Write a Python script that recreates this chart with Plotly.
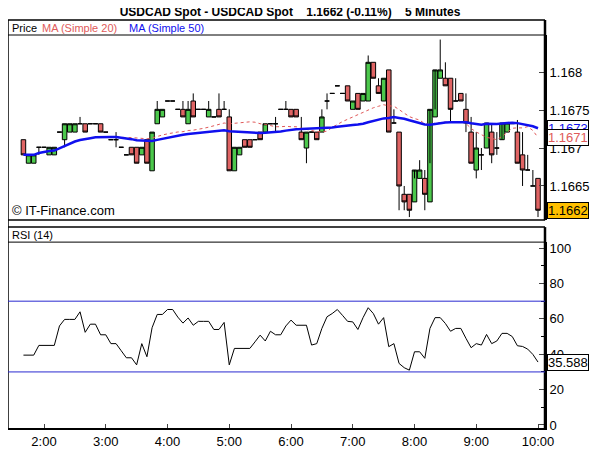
import pandas as pd
import plotly.graph_objects as go
from plotly.subplots import make_subplots

start = "2024-01-01 01:40"
opens = [1.16711,1.16680,1.16680,1.16701,1.16701,1.16691,1.16691,1.16721,1.16711,1.16721,
         1.16721,1.16732,1.16732,1.16732,1.16732,1.16732,1.16721,1.16711,1.16711,1.16701,
         1.16691,1.16701,1.16701,1.16691,1.16711,1.16670,1.16732,1.16741,1.16762,1.16762,
         1.16751,1.16751,1.16732,1.16762,1.16751,1.16751,1.16741,1.16741,1.16751,1.16751,
         1.16741,1.16670,1.16691,1.16711,1.16711,1.16711,1.16721,1.16721,1.16732,1.16732,
         1.16751,1.16751,1.16751,1.16751,1.16721,1.16700,1.16721,1.16721,1.16721,1.16762,
         1.16772,1.16782,1.16772,1.16782,1.16751,1.16772,1.16762,1.16762,1.16813,1.16782,
         1.16762,1.16803,1.16733,1.16721,1.16639,1.16639,1.16629,1.16660,1.16660,1.16629,
         1.16741,1.16792,1.16792,1.16792,1.16762,1.16772,1.16751,1.16721,1.16671,1.16691,
         1.16700,1.16721,1.16700,1.16711,1.16721,1.16732,1.16721,1.16691,1.16671,1.16650,
         1.16660]
highs = [1.16711,1.16691,1.16691,1.16701,1.16701,1.16701,1.16701,1.16721,1.16732,1.16732,
         1.16732,1.16741,1.16732,1.16732,1.16732,1.16732,1.16721,1.16711,1.16721,1.16701,
         1.16691,1.16701,1.16701,1.16701,1.16711,1.16721,1.16762,1.16751,1.16762,1.16762,
         1.16751,1.16762,1.16762,1.16772,1.16751,1.16751,1.16762,1.16741,1.16772,1.16762,
         1.16751,1.16701,1.16701,1.16711,1.16711,1.16711,1.16721,1.16732,1.16732,1.16741,
         1.16751,1.16762,1.16751,1.16751,1.16741,1.16721,1.16721,1.16721,1.16751,1.16772,
         1.16772,1.16782,1.16772,1.16782,1.16762,1.16772,1.16772,1.16822,1.16813,1.16792,
         1.16792,1.16803,1.16751,1.16721,1.16650,1.16639,1.16660,1.16684,1.16671,1.16680,
         1.16751,1.16843,1.16813,1.16792,1.16792,1.16772,1.16772,1.16741,1.16721,1.16700,
         1.16733,1.16733,1.16721,1.16711,1.16733,1.16733,1.16737,1.16721,1.16691,1.16671,
         1.16660]
lows  = [1.16691,1.16680,1.16680,1.16691,1.16701,1.16691,1.16691,1.16721,1.16701,1.16721,
         1.16721,1.16732,1.16721,1.16732,1.16732,1.16721,1.16721,1.16711,1.16701,1.16701,
         1.16691,1.16691,1.16680,1.16691,1.16680,1.16670,1.16732,1.16741,1.16762,1.16762,
         1.16751,1.16741,1.16732,1.16741,1.16751,1.16751,1.16741,1.16741,1.16741,1.16751,
         1.16670,1.16670,1.16691,1.16701,1.16701,1.16711,1.16711,1.16721,1.16732,1.16721,
         1.16751,1.16751,1.16741,1.16741,1.16711,1.16680,1.16721,1.16711,1.16721,1.16751,
         1.16772,1.16782,1.16772,1.16762,1.16751,1.16751,1.16762,1.16762,1.16792,1.16772,
         1.16762,1.16721,1.16733,1.16618,1.16618,1.16609,1.16629,1.16660,1.16618,1.16629,
         1.16741,1.16792,1.16782,1.16733,1.16762,1.16762,1.16721,1.16680,1.16660,1.16671,
         1.16700,1.16680,1.16691,1.16711,1.16721,1.16733,1.16680,1.16650,1.16671,1.16650,
         1.16609]
closes= [1.16691,1.16691,1.16691,1.16701,1.16701,1.16701,1.16701,1.16721,1.16732,1.16732,
         1.16732,1.16732,1.16721,1.16732,1.16732,1.16721,1.16721,1.16711,1.16711,1.16701,
         1.16691,1.16691,1.16680,1.16701,1.16680,1.16721,1.16751,1.16751,1.16762,1.16762,
         1.16751,1.16741,1.16751,1.16741,1.16751,1.16751,1.16751,1.16741,1.16741,1.16751,
         1.16670,1.16701,1.16701,1.16701,1.16701,1.16711,1.16711,1.16732,1.16732,1.16732,
         1.16751,1.16751,1.16741,1.16741,1.16711,1.16721,1.16721,1.16711,1.16741,1.16762,
         1.16772,1.16782,1.16772,1.16762,1.16762,1.16751,1.16772,1.16813,1.16792,1.16772,
         1.16792,1.16721,1.16733,1.16650,1.16629,1.16618,1.16671,1.16671,1.16639,1.16751,
         1.16803,1.16803,1.16782,1.16751,1.16762,1.16762,1.16733,1.16680,1.16700,1.16691,
         1.16733,1.16691,1.16700,1.16733,1.16733,1.16733,1.16680,1.16671,1.16671,1.16650,
         1.16618]
rsi = [39.5,39.5,39.5,45,45,45,45,56,59.7,59.7,59.7,64,52.4,57,57,51,51,46,46,42,
       38,38,34,46,38.6,55,62.5,62.5,65.3,65.3,61,57.6,60.5,56.4,58.6,58.6,58.6,54,54,58,
       34,43.3,43.3,43.3,43.3,47,50.8,47.5,53,51,51,56,59.3,56.4,56.4,56.4,45.2,46,54.6,61.2,
       63,65.3,62,58.6,58.3,54,60.7,66.3,63,57,60.7,44.3,46,34.8,32.4,31,41.4,41.4,37.7,54.6,
       60.7,60.7,57.4,53,54.6,54.6,49,43.7,46,45.2,51.2,46,47.5,51.8,51.8,50,44.8,44.4,42.9,39.9,
       35.588]
price_ticks = [1.1665, 1.167, 1.1675, 1.168]
price_tick_text = ["1.1665", "1.167", "1.1675", "1.168"]
rsi_ticks = [0, 20, 40, 60, 80, 100]

times = pd.date_range(start, periods=len(closes), freq="5min")
cs = pd.Series(closes)
ma20 = cs.rolling(20, min_periods=1).mean()
ma50 = cs.rolling(50, min_periods=1).mean()

GREEN = "#4cc84c"; RED = "#e06464"; BLUE = "#1010ee"; MARED = "#e05a5a"
FONT = "Liberation Sans"
fig = make_subplots(rows=2, cols=1, shared_xaxes=True, vertical_spacing=0.0)
fig.add_trace(go.Candlestick(x=times, open=opens, high=highs, low=lows, close=closes,
    increasing=dict(fillcolor=GREEN, line=dict(color="black", width=1)),
    decreasing=dict(fillcolor=RED, line=dict(color="black", width=1)),
    whiskerwidth=0, showlegend=False), row=1, col=1)
fig.add_trace(go.Scatter(x=times, y=ma20, mode="lines", line=dict(color=MARED, width=1, dash="dot"),
    showlegend=False), row=1, col=1)
fig.add_trace(go.Scatter(x=times, y=ma50, mode="lines", line=dict(color=BLUE, width=2.5),
    showlegend=False), row=1, col=1)
fig.add_trace(go.Scatter(x=times, y=rsi, mode="lines", line=dict(color="black", width=1),
    showlegend=False), row=2, col=1)

xr = ["2024-01-01 01:25", "2024-01-01 10:06:48"]
fig.update_layout(width=600, height=450, margin=dict(l=0, r=63, t=27, b=30),
    paper_bgcolor="white", plot_bgcolor="white", font=dict(family=FONT, size=12, color="black"),
    boxgap=0.12, boxgroupgap=0,
    xaxis=dict(domain=[0, 1], range=xr, rangeslider=dict(visible=False), showgrid=False,
               showticklabels=False, ticks=""),
    xaxis2=dict(range=xr, showgrid=False, tickformat="%-H:%M", dtick=3600000,
                tick0="2024-01-01 02:00", ticks="inside", ticklen=4, showline=True,
                linecolor="black", linewidth=2, tickfont=dict(size=13)),
    yaxis=dict(domain=[0.529, 1], range=[1.16605, 1.16849], side="right", tickvals=price_ticks,
               ticktext=price_tick_text, ticks="inside", ticklen=6, showgrid=False,
               showline=True, linecolor="black", linewidth=2, zeroline=False,
               tickfont=dict(size=13)),
    yaxis2=dict(domain=[0, 0.473], range=[-1.7, 103.4], side="right", tickvals=rsi_ticks,
                ticks="inside", ticklen=6, showgrid=False, showline=True, linecolor="black",
                linewidth=2, zeroline=False, tickfont=dict(size=13),
                minor=dict(dtick=10, ticks="inside", ticklen=4, tickcolor="black")),
    title=dict(text="<b>USDCAD Spot - USDCAD Spot    1.1662 (-0.11%)    5 Minutes</b>",
               x=0.47, xanchor="center", y=1.0, yanchor="top", pad=dict(t=0),
               font=dict(size=12)))

shapes = []
def pline(x0, y0, x1, y1, w=1.5, c="black"):
    shapes.append(dict(type="line", xref="paper", yref="paper", x0=x0, y0=y0, x1=x1, y1=y1,
                       line=dict(color=c, width=w)))
top1 = 1 + 15/393
pline(0, top1, 1, top1)
pline(0, 1, 1, 1, 1)
pline(0, 0.529, 1, 0.529)
top2 = 0.473 + 15/393
pline(0, top2, 1, top2)
pline(0, 0.473, 1, 0.473, 1)
pline(0, 0, 0, top1)
pline(1, 0.529, 1, top1, 2.5)
pline(1, 0, 1, top2, 2.5)
for v in (70, 30):
    shapes.append(dict(type="line", xref="x2 domain", yref="y2", x0=0, x1=1, y0=v, y1=v,
                       line=dict(color="#2a2ad0", width=1)))
fig.update_layout(shapes=shapes)

ann = [
    dict(text="Price", x=0.003, y=top1 - 7.5/393),
    dict(text="<span style='color:#e05a5a'>MA (Simple 20)</span>", x=0.06, y=top1 - 7.5/393),
    dict(text="<span style='color:#1010ee'>MA (Simple 50)</span>", x=0.222, y=top1 - 7.5/393),
    dict(text="RSI (14)", x=0.003, y=top2 - 7.5/393),
]
anns = []
for a in ann:
    anns.append(dict(xref="paper", yref="paper", xanchor="left", yanchor="middle",
                     showarrow=False, font=dict(size=11, color="black"), **a))
anns.append(dict(text="© IT-Finance.com", xref="paper", yref="paper", x=0.003, y=0.529,
                 xanchor="left", yanchor="bottom", showarrow=False, font=dict(size=13)))
def lab(val, yref, color, bg, txt):
    anns.append(dict(text=txt, xref="paper", yref=yref, x=1.004, y=val, xanchor="left",
                     showarrow=False, font=dict(size=13, color=color), bgcolor=bg,
                     bordercolor="black", borderwidth=1, borderpad=0))
lab(ma50.iloc[-1], "y", BLUE, "white", f"{ma50.iloc[-1]:.4f}")
lab(ma20.iloc[-1], "y", MARED, "white", f"{ma20.iloc[-1]:.4f}")
lab(closes[-1], "y", "black", "#ffc000", f"{closes[-1]:.4f}")
lab(rsi[-1], "y2", "black", "white", f"{rsi[-1]:.3f}")
fig.update_layout(annotations=anns)
fig.write_html("out.html")
